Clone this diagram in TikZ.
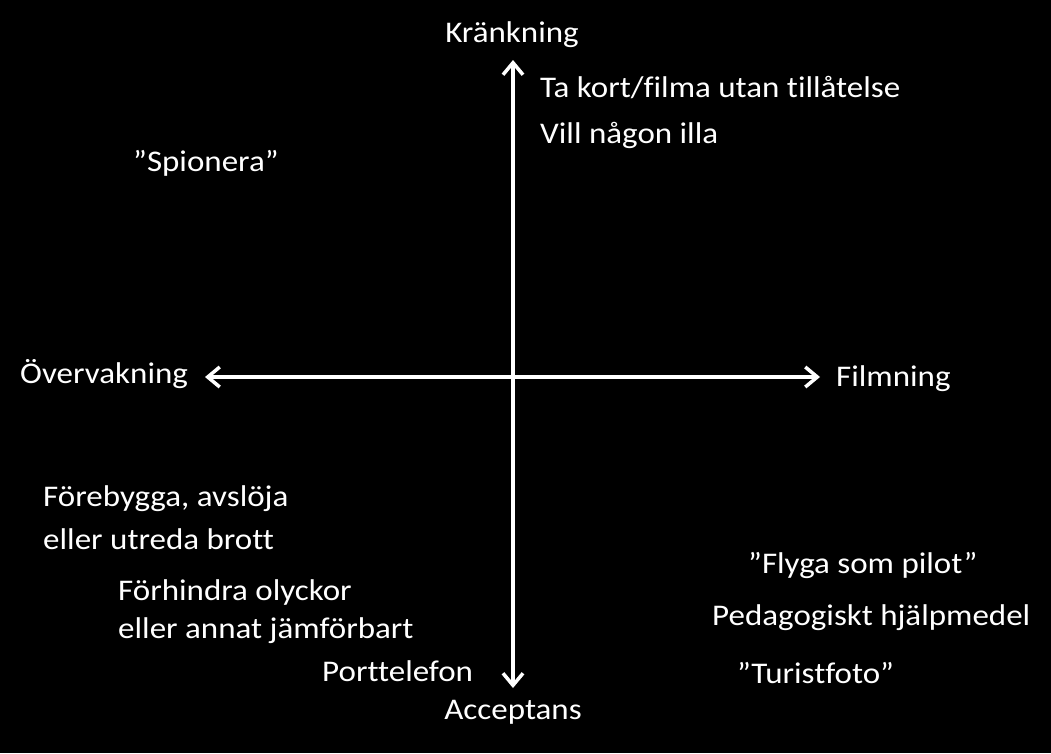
\documentclass[tikz,border=0pt]{standalone}
\usepackage{fontspec}
\setmainfont[Ligatures=NoCommon]{Carlito}
\usetikzlibrary{arrows.meta}
\begin{document}
\begin{tikzpicture}[x=1pt,y=-1pt,
  lbl/.style={text=white,font=\fontsize{30}{36}\selectfont,inner sep=0pt,xscale=1.1},
  axis/.style={white,line width=3.5pt,{Straight Barb[length=12pt,width=20pt,line width=3.5pt]}-{Straight Barb[length=12pt,width=20pt,line width=3.5pt]}}]
\fill[black] (0,0) rectangle (1051,753);
\useasboundingbox (0,0) rectangle (1051,753);
\coordinate (top) at (513,60);
\coordinate (bot) at (513,688);
\coordinate (lft) at (205,377);
\coordinate (rgt) at (820,377);
\draw[axis] (bot) -- (top);
\draw[axis] (lft) -- (rgt);
\node[lbl] (k) at (512,35) {Kränkning};
\node[lbl] (a) at (513,712) {Acceptans};
\node[lbl,anchor=west] (o) at (20,374) {Övervakning};
\node[lbl,anchor=west] (f) at (836,379) {Filmning};
\node[lbl,anchor=west] (t1) at (540,88) {Ta kort/filma utan tillåtelse};
\node[lbl,anchor=west] (t2) at (540,135) {Vill någon illa};
\node[lbl,anchor=west] (s) at (133,163) {”Spionera”};
\node[lbl,anchor=west] (b1) at (43,499) {Förebygga, avslöja};
\node[lbl,anchor=west] (b2) at (43,539) {eller utreda brott};
\node[lbl,anchor=west] (c1) at (118,592) {Förhindra olyckor};
\node[lbl,anchor=west] (c2) at (118,631) {eller annat jämförbart};
\node[lbl,anchor=west] (p) at (322,671) {Porttelefon};
\node[lbl,anchor=west] (r1) at (748,565) {”Flyga som pilot”};
\node[lbl,anchor=west] (r2) at (712,618) {Pedagogiskt hjälpmedel};
\node[lbl,anchor=west] (r3) at (737,673) {”Turistfoto”};
\end{tikzpicture}
\end{document}
